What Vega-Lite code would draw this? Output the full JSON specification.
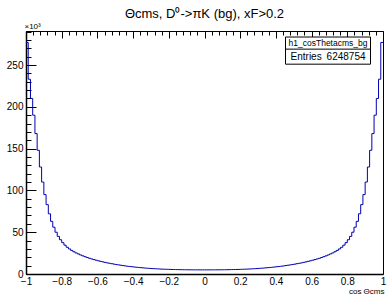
{
  "$schema": "https://vega.github.io/schema/vega-lite/v6.json",
  "width": 357,
  "height": 243,
  "autosize": "none",
  "padding": {"left": 26, "top": 31, "right": 4, "bottom": 24},
  "background": "white",
  "config": {
    "view": {"stroke": "black", "strokeWidth": 1},
    "font": "Liberation Sans",
    "axis": {"domainColor": "black", "tickColor": "black", "labelColor": "black", "labelFont": "Liberation Sans", "labelFontSize": 10, "titleFont": "Liberation Sans", "titleFontWeight": "normal", "titleColor": "black", "gridColor": "black", "gridOpacity": 1, "gridWidth": 1}
  },
  "title": {"text": "Θcms, D⁰->πK (bg), xF>0.2", "fontSize": 13, "font": "Liberation Sans", "fontWeight": "normal", "anchor": "middle", "offset": 1, "color": "black"},
  "datasets": {
    "hist": [
      {"x":-1,"n":277000},{"x":-0.9875,"n":233000},{"x":-0.975,"n":210000},{"x":-0.9625,"n":190000},{"x":-0.95,"n":168000},{"x":-0.9375,"n":148000},{"x":-0.925,"n":128000},{"x":-0.9125,"n":110000},{"x":-0.9,"n":95000},{"x":-0.8875,"n":83000},
      {"x":-0.875,"n":72000},{"x":-0.8625,"n":63000},{"x":-0.85,"n":56000},{"x":-0.8375,"n":50000},{"x":-0.825,"n":45000},{"x":-0.8125,"n":41000},{"x":-0.8,"n":37500},{"x":-0.7875,"n":34500},{"x":-0.775,"n":32000},{"x":-0.7625,"n":30000},
      {"x":-0.75,"n":28200},{"x":-0.7375,"n":26600},{"x":-0.725,"n":25200},{"x":-0.7125,"n":24000},{"x":-0.7,"n":22800},{"x":-0.6875,"n":21700},{"x":-0.675,"n":20700},{"x":-0.6625,"n":19700},{"x":-0.65,"n":18800},{"x":-0.6375,"n":18000},
      {"x":-0.625,"n":17200},{"x":-0.6125,"n":16500},{"x":-0.6,"n":15800},{"x":-0.5875,"n":15100},{"x":-0.575,"n":14500},{"x":-0.5625,"n":13900},{"x":-0.55,"n":13300},{"x":-0.5375,"n":12800},{"x":-0.525,"n":12300},{"x":-0.5125,"n":11800},
      {"x":-0.5,"n":11300},{"x":-0.4875,"n":10900},{"x":-0.475,"n":10500},{"x":-0.4625,"n":10100},{"x":-0.45,"n":9700},{"x":-0.4375,"n":9300},{"x":-0.425,"n":9000},{"x":-0.4125,"n":8700},{"x":-0.4,"n":8400},{"x":-0.3875,"n":8100},
      {"x":-0.375,"n":7850},{"x":-0.3625,"n":7600},{"x":-0.35,"n":7350},{"x":-0.3375,"n":7100},{"x":-0.325,"n":6900},{"x":-0.3125,"n":6700},{"x":-0.3,"n":6500},{"x":-0.2875,"n":6350},{"x":-0.275,"n":6200},{"x":-0.2625,"n":6050},
      {"x":-0.25,"n":5900},{"x":-0.2375,"n":5800},{"x":-0.225,"n":5700},{"x":-0.2125,"n":5600},{"x":-0.2,"n":5500},{"x":-0.1875,"n":5420},{"x":-0.175,"n":5350},{"x":-0.1625,"n":5280},{"x":-0.15,"n":5220},{"x":-0.1375,"n":5170},
      {"x":-0.125,"n":5120},{"x":-0.1125,"n":5080},{"x":-0.1,"n":5050},{"x":-0.0875,"n":5020},{"x":-0.075,"n":5000},{"x":-0.0625,"n":4980},{"x":-0.05,"n":4970},{"x":-0.0375,"n":4960},{"x":-0.025,"n":4950},{"x":-0.0125,"n":4950},
      {"x":0,"n":4950},{"x":0.0125,"n":4950},{"x":0.025,"n":4960},{"x":0.0375,"n":4970},{"x":0.05,"n":4980},{"x":0.0625,"n":5000},{"x":0.075,"n":5020},{"x":0.0875,"n":5050},{"x":0.1,"n":5080},{"x":0.1125,"n":5120},
      {"x":0.125,"n":5170},{"x":0.1375,"n":5220},{"x":0.15,"n":5280},{"x":0.1625,"n":5350},{"x":0.175,"n":5420},{"x":0.1875,"n":5500},{"x":0.2,"n":5600},{"x":0.2125,"n":5700},{"x":0.225,"n":5800},{"x":0.2375,"n":5900},
      {"x":0.25,"n":6050},{"x":0.2625,"n":6200},{"x":0.275,"n":6350},{"x":0.2875,"n":6500},{"x":0.3,"n":6700},{"x":0.3125,"n":6900},{"x":0.325,"n":7100},{"x":0.3375,"n":7350},{"x":0.35,"n":7600},{"x":0.3625,"n":7850},
      {"x":0.375,"n":8100},{"x":0.3875,"n":8400},{"x":0.4,"n":8700},{"x":0.4125,"n":9000},{"x":0.425,"n":9300},{"x":0.4375,"n":9700},{"x":0.45,"n":10100},{"x":0.4625,"n":10500},{"x":0.475,"n":10900},{"x":0.4875,"n":11300},
      {"x":0.5,"n":11800},{"x":0.5125,"n":12300},{"x":0.525,"n":12800},{"x":0.5375,"n":13300},{"x":0.55,"n":13900},{"x":0.5625,"n":14500},{"x":0.575,"n":15100},{"x":0.5875,"n":15800},{"x":0.6,"n":16500},{"x":0.6125,"n":17200},
      {"x":0.625,"n":18000},{"x":0.6375,"n":18800},{"x":0.65,"n":19700},{"x":0.6625,"n":20700},{"x":0.675,"n":21700},{"x":0.6875,"n":22800},{"x":0.7,"n":24000},{"x":0.7125,"n":25200},{"x":0.725,"n":26600},{"x":0.7375,"n":28200},
      {"x":0.75,"n":30000},{"x":0.7625,"n":32000},{"x":0.775,"n":34500},{"x":0.7875,"n":37500},{"x":0.8,"n":41000},{"x":0.8125,"n":45000},{"x":0.825,"n":50000},{"x":0.8375,"n":56000},{"x":0.85,"n":63000},{"x":0.8625,"n":72000},
      {"x":0.875,"n":83000},{"x":0.8875,"n":95000},{"x":0.9,"n":110000},{"x":0.9125,"n":128000},{"x":0.925,"n":148000},{"x":0.9375,"n":168000},{"x":0.95,"n":190000},{"x":0.9625,"n":210000},{"x":0.975,"n":233000},{"x":0.9875,"n":277000},
      {"x":1,"n":277000}
    ],
    "stats": [{"name": "h1_cosThetacms_bg", "label": "Entries", "entries": "6248754"}]
  },
  "layer": [
    {
      "data": {"name": "hist"},
      "mark": {"type": "line", "interpolate": "step-after", "color": "#0000b0", "strokeWidth": 1, "clip": true},
      "encoding": {
        "x": {"field": "x", "type": "quantitative", "scale": {"domain": [-1, 1], "nice": false, "zero": false},
          "axis": {"orient": "bottom", "tickCount": 200,
            "values": [-1,-0.96,-0.92,-0.88,-0.84,-0.8,-0.76,-0.72,-0.68,-0.64,-0.6,-0.56,-0.52,-0.48,-0.44,-0.4,-0.36,-0.32,-0.28,-0.24,-0.2,-0.16,-0.12,-0.08,-0.04,0,0.04,0.08,0.12,0.16,0.2,0.24,0.28,0.32,0.36,0.4,0.44,0.48,0.52,0.56,0.6,0.64,0.68,0.72,0.76,0.8,0.84,0.88,0.92,0.96,1],
            "format": "~g",
            "labelExpr": "abs(datum.value*5 - round(datum.value*5)) < 0.001 ? datum.label : ''",
            "ticks": false, "grid": true,
            "gridDash": {"condition": {"test": "abs(datum.value*5 - round(datum.value*5)) < 0.001", "value": [7, 2000]}, "value": [4, 2000]},
            "labelPadding": 2, "labelFlush": false, "labelOverlap": false, "domainWidth": 1.5,
            "title": "cos Θcms", "titleFontSize": 8, "titleAnchor": "end", "titleAlign": "right", "titleBaseline": "top", "titleX": 358, "titleY": 13}},
        "y": {"field": "n", "type": "quantitative", "scale": {"domain": [0, 290700], "nice": false},
          "axis": {"orient": "left", "tickCount": 200,
            "values": [0,10000,20000,30000,40000,50000,60000,70000,80000,90000,100000,110000,120000,130000,140000,150000,160000,170000,180000,190000,200000,210000,220000,230000,240000,250000,260000,270000,280000,290000],
            "labelExpr": "datum.value % 50000 === 0 ? format(datum.value/1000, 'd') : ''",
            "ticks": false, "grid": true,
            "gridDash": {"condition": {"test": "datum.value % 50000 === 0", "value": [10, 2000]}, "value": [5, 2000]},
            "labelPadding": 3, "domainWidth": 1.5, "labelFlush": false, "labelOverlap": false,
            "title": "×10³", "titleAngle": 0, "titleFontSize": 8, "titleAlign": "left", "titleBaseline": "bottom", "titleX": -2, "titleY": -1}}
      }
    },
    {
      "data": {"name": "stats"},
      "mark": {"type": "rect", "fill": "white", "stroke": "black", "strokeWidth": 1},
      "encoding": {"x": {"datum": 0.4538}, "x2": {"datum": 0.93}, "y": {"datum": 283500}, "y2": {"datum": 251000}}
    },
    {
      "data": {"name": "stats"},
      "mark": {"type": "rule", "color": "black", "strokeWidth": 1},
      "encoding": {"x": {"datum": 0.4538}, "x2": {"datum": 0.93}, "y": {"datum": 269000}}
    },
    {
      "data": {"name": "stats"},
      "mark": {"type": "text", "fontSize": 8.5, "font": "Liberation Sans", "align": "center", "baseline": "middle", "color": "black"},
      "encoding": {"x": {"datum": 0.692}, "y": {"datum": 276200}, "text": {"field": "name"}}
    },
    {
      "data": {"name": "stats"},
      "mark": {"type": "text", "fontSize": 10, "font": "Liberation Sans", "align": "left", "baseline": "middle", "color": "black"},
      "encoding": {"x": {"datum": 0.482}, "y": {"datum": 260000}, "text": {"field": "label"}}
    },
    {
      "data": {"name": "stats"},
      "mark": {"type": "text", "fontSize": 10, "font": "Liberation Sans", "align": "right", "baseline": "middle", "color": "black"},
      "encoding": {"x": {"datum": 0.902}, "y": {"datum": 260000}, "text": {"field": "entries"}}
    }
  ]
}
